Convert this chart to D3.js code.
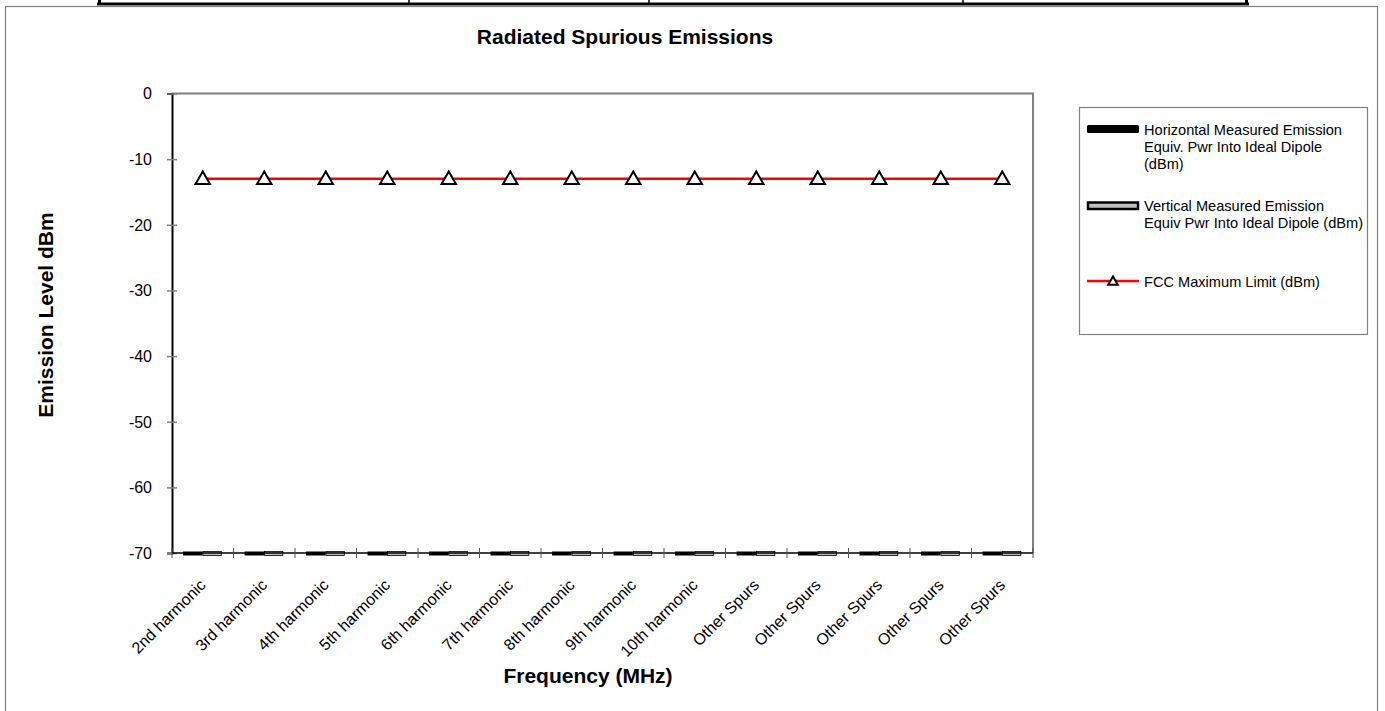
<!DOCTYPE html>
<html>
<head>
<meta charset="utf-8">
<script src="https://cdn.jsdelivr.net/npm/d3@7"></script>
<style>
  html, body { margin: 0; padding: 0; background: #fff; }
  svg { display: block; font-family: "Liberation Sans", Arial, sans-serif; }
</style>
</head>
<body>
<svg id="chart" width="1385" height="711"></svg>
<script>
// ---------- data ----------
const categories = ["2nd harmonic","3rd harmonic","4th harmonic","5th harmonic","6th harmonic",
  "7th harmonic","8th harmonic","9th harmonic","10th harmonic","Other Spurs","Other Spurs",
  "Other Spurs","Other Spurs","Other Spurs"];
const horizontalEmission = [-70,-70,-70,-70,-70,-70,-70,-70,-70,-70,-70,-70,-70,-70];
const verticalEmission   = [-70,-70,-70,-70,-70,-70,-70,-70,-70,-70,-70,-70,-70,-70];
const fccLimit           = [-13,-13,-13,-13,-13,-13,-13,-13,-13,-13,-13,-13,-13,-13];
const yTicks = [0,-10,-20,-30,-40,-50,-60,-70];
const yTickLabels = ["0","-10","-20","-30","-40","-50","-60","-70"];
const seriesNames = [
  ["Horizontal Measured Emission","Equiv. Pwr Into Ideal Dipole","(dBm)"],
  ["Vertical Measured Emission","Equiv Pwr Into Ideal Dipole (dBm)"],
  ["FCC Maximum Limit (dBm)"]
];
const titleText = "Radiated Spurious Emissions";
const xTitle = "Frequency (MHz)";
const yTitle = "Emission Level dBm";

// ---------- layout ----------
const svg = d3.select("#chart");
const plot = {left: 172, right: 1033, top: 93.5, bottom: 553};
const idx = categories.map((d,i)=>i);

const x = d3.scaleBand().domain(idx).range([plot.left, plot.right]).padding(0);
const xSub = d3.scaleBand().domain([0,1]).range([x.bandwidth()*0.18, x.bandwidth()*0.81]).padding(0);
const y = d3.scaleLinear().domain([-70, 0]).range([plot.bottom, plot.top]);

// top table fragment (document context)
const tbl = svg.append("g");
tbl.append("line").attr("x1",97).attr("x2",1249).attr("y1",4).attr("y2",4).attr("stroke","#000").attr("stroke-width",3);
tbl.append("line").attr("x1",97).attr("x2",1249).attr("y1",5.5).attr("y2",5.5).attr("stroke","#888").attr("stroke-width",1);
[[99.5,3],[409,1.5],[649,1.5],[963,1.5],[1246.5,3]].forEach(([xx,w])=>{
  tbl.append("line").attr("x1",xx).attr("x2",xx).attr("y1",0).attr("y2",5).attr("stroke","#000").attr("stroke-width",w);
});

// outer chart frame
svg.append("rect").attr("x",5.5).attr("y",6.5).attr("width",1372).attr("height",720)
  .attr("fill","#fff").attr("stroke","#808080").attr("stroke-width",1.2);

// title
svg.append("text").attr("x",625).attr("y",44).attr("text-anchor","middle")
  .attr("font-size",21).attr("font-weight","bold").text(titleText);

// plot border top/right (gray)
svg.append("path")
  .attr("d",`M${plot.left},${plot.top}H${plot.right}V${plot.bottom}`)
  .attr("fill","none").attr("stroke","#808080").attr("stroke-width",2);

// y axis
const yAxis = d3.axisLeft(y).tickValues(yTicks).tickSize(5)
  .tickFormat((d,i)=>yTickLabels[i]);
const gy = svg.append("g").attr("transform",`translate(${plot.left},0)`).call(yAxis);
gy.select(".domain").attr("stroke","#000").attr("stroke-width",2);
gy.selectAll(".tick line").attr("stroke","#808080").attr("stroke-width",1.5).attr("x2",-5).attr("x1",5);
gy.selectAll(".tick text").attr("x",-20).attr("dy","0.34em").attr("font-size",16)
  .attr("font-family","'Liberation Sans', Arial, sans-serif").attr("fill","#000");

// bars (straddle the axis)
const barG = svg.append("g");
const series = [horizontalEmission, verticalEmission];
series.forEach((vals, s) => {
  barG.selectAll(null).data(vals).enter().append("rect")
    .attr("x",(d,i)=> x(i) + xSub(s) + (s ? 0.5 : 0))
    .attr("width", xSub.bandwidth() - (s ? 1 : 0))
    .attr("y", d => y(d) - 1.5)
    .attr("height", d => Math.max(y(-70) - y(d), 0) + 4)
    .attr("fill", s === 0 ? "#000" : "#c0c0c0")
    .attr("stroke", s === 0 ? "none" : "#000")
    .attr("stroke-width", 0.8);
});

// x axis
const xAxisG = svg.append("g").attr("transform",`translate(0,${plot.bottom})`);
xAxisG.append("line").attr("x1",plot.left).attr("x2",plot.right).attr("y1",0).attr("y2",0)
  .attr("stroke","#000").attr("stroke-width",1.5);
const boundaries = idx.map(i=>x(i)).concat([plot.right]);
xAxisG.selectAll(".xt").data(boundaries).enter().append("line")
  .attr("x1",d=>d).attr("x2",d=>d).attr("y1",-5).attr("y2",5)
  .attr("stroke","#555").attr("stroke-width",1);
xAxisG.selectAll(".xl").data(categories).enter().append("text")
  .attr("transform",(d,i)=>`translate(${x(i)+x.bandwidth()/2+4},${33}) rotate(-45)`)
  .attr("text-anchor","end").attr("font-size",16).text(d=>d);

// FCC line
const line = d3.line().x((d,i)=>x(i)+x.bandwidth()/2).y(d=>y(d));
svg.append("path").datum(fccLimit).attr("d",line)
  .attr("fill","none").attr("stroke","#ff0000").attr("stroke-width",2.5);
const tri = d3.symbol().type(d3.symbolTriangle).size(90);
svg.selectAll(".mk").data(fccLimit).enter().append("path")
  .attr("d",tri)
  .attr("transform",(d,i)=>`translate(${x(i)+x.bandwidth()/2},${y(d)+1})`)
  .attr("fill","#fff").attr("stroke","#000").attr("stroke-width",2);

// axis titles
svg.append("text").attr("transform","translate(53,315) rotate(-90)").attr("text-anchor","middle")
  .attr("font-size",21).attr("font-weight","bold").text(yTitle);
svg.append("text").attr("x",588).attr("y",683).attr("text-anchor","middle")
  .attr("font-size",21).attr("font-weight","bold").text(xTitle);

// legend
const lg = svg.append("g");
lg.append("rect").attr("x",1079.5).attr("y",107.5).attr("width",288).attr("height",227)
  .attr("fill","#fff").attr("stroke","#808080").attr("stroke-width",1.2);
const lgX = 1087, lgW = 52, txtX = 1144;
lg.append("rect").attr("x",lgX).attr("y",125).attr("width",lgW).attr("height",8).attr("rx",1.5).attr("fill","#000");
lg.append("rect").attr("x",lgX+1).attr("y",202.5).attr("width",lgW-2).attr("height",6.5)
  .attr("fill","#c0c0c0").attr("stroke","#000").attr("stroke-width",2.5);
lg.append("line").attr("x1",lgX).attr("x2",lgX+lgW).attr("y1",281).attr("y2",281)
  .attr("stroke","#ff0000").attr("stroke-width",2.5);
lg.append("path").attr("d",d3.symbol().type(d3.symbolTriangle).size(40))
  .attr("transform",`translate(${lgX+lgW/2},282)`).attr("fill","#fff").attr("stroke","#000").attr("stroke-width",2);
const baselines = [[135,152,169],[211,228],[287]];
seriesNames.forEach((lines, s) => {
  lines.forEach((t, j) => {
    lg.append("text").attr("x",txtX).attr("y",baselines[s][j]).attr("font-size",14.6).text(t);
  });
});
</script>
</body>
</html>
